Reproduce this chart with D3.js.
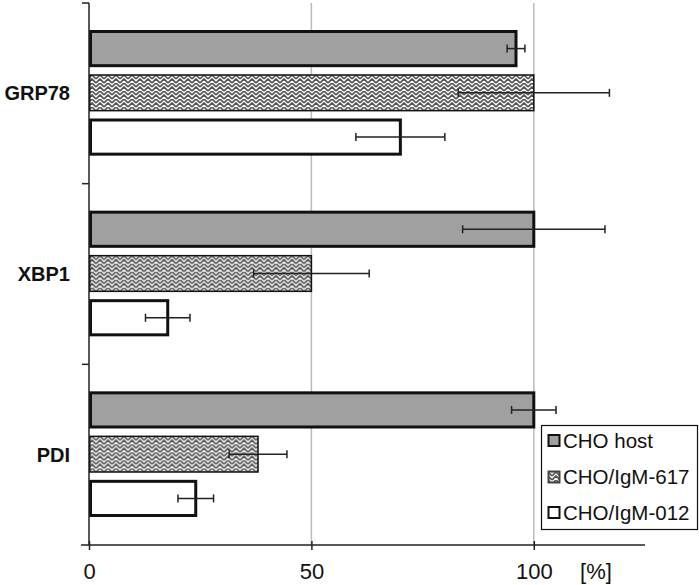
<!DOCTYPE html>
<html>
<head>
<meta charset="utf-8">
<script src="https://cdn.jsdelivr.net/npm/d3@7"></script>
<style>
  body { margin: 0; background: #fff; }
  svg { display: block; font-family: "Liberation Sans", Arial, sans-serif; }
</style>
</head>
<body>
<svg id="chart" width="699" height="585"></svg>
<script>
// data
const genes = ["GRP78", "XBP1", "PDI"];
const series = ["CHO host", "CHO/IgM-617", "CHO/IgM-012"];
const hostVals = [96, 100, 100];
const hostErr = [2, 16, 5];
const igm617Vals = [100, 50, 38];
const igm617Err = [17, 13, 6.5];
const igm012Vals = [70, 17.7, 24];
const igm012Err = [10, 5, 4];
const xTicks = [0, 50, 100];

const values = [hostVals, igm617Vals, igm012Vals];
const errors = [hostErr, igm617Err, igm012Err];

const svg = d3.select("#chart");
const plotLeft = 89, plotRight = 645, plotTop = 3, plotBottom = 545;

const x = d3.scaleLinear().domain([0, 125]).range([plotLeft, plotRight]);
const y0 = d3.scaleBand().domain(genes).range([plotTop, plotBottom]);
const y1 = d3.scaleBand().domain(series)
  .range([27, y0.bandwidth() - 28]).paddingInner(0.16);

// herringbone-ish pattern for the 617 series
const defs = svg.append("defs");
const pat = defs.append("pattern")
  .attr("id", "weave").attr("patternUnits", "userSpaceOnUse")
  .attr("width", 8).attr("height", 8);
pat.append("rect").attr("width", 8).attr("height", 8).attr("fill", "#fff");
pat.append("path")
  .attr("d", "M0,4 L4,0 L8,4 M0,8 L4,4 L8,8 M-1,1 L0,0 M8,0 L9,1")
  .attr("fill", "none").attr("stroke", "#555").attr("stroke-width", 1.7);

const fills = ["#a0a0a0", "url(#weave)", "#fff"];
const strokes = [3, 1.5, 3];

// gridlines
svg.append("g").selectAll("line")
  .data(xTicks.filter(d => d > 0))
  .join("line")
  .attr("x1", d => x(d)).attr("x2", d => x(d))
  .attr("y1", plotTop).attr("y2", plotBottom)
  .attr("stroke", "#bbb").attr("stroke-width", 1.5);

// bars
const groups = svg.append("g").selectAll("g")
  .data(genes)
  .join("g")
  .attr("transform", d => `translate(0,${y0(d)})`);

groups.each(function (g, gi) {
  const sel = d3.select(this);
  series.forEach((s, si) => {
    const v = values[si][gi];
    const e = errors[si][gi];
    const sw = strokes[si];
    sel.append("rect")
      .attr("x", x(0) + sw / 2)
      .attr("y", y1(s) + sw / 2)
      .attr("width", x(v) - x(0) - sw / 2)
      .attr("height", y1.bandwidth() - sw)
      .attr("fill", fills[si])
      .attr("stroke", "#111")
      .attr("stroke-width", sw);
    const cy = y1(s) + y1.bandwidth() / 2;
    const eb = sel.append("g").attr("stroke", "#222").attr("stroke-width", 1.5);
    eb.append("line").attr("x1", x(v - e)).attr("x2", x(v + e)).attr("y1", cy).attr("y2", cy);
    [v - e, v + e].forEach(t => {
      eb.append("line").attr("x1", x(t)).attr("x2", x(t)).attr("y1", cy - 4).attr("y2", cy + 4);
    });
  });
});

// x axis
const xAxis = svg.append("g")
  .attr("transform", `translate(0,${plotBottom})`)
  .call(d3.axisBottom(x).tickValues(xTicks).tickSize(5).tickPadding(13).tickSizeOuter(0));
xAxis.select(".domain").attr("stroke", "#222").attr("stroke-width", 1.5)
  .attr("d", `M${plotLeft - 8},0H${plotRight}`);
xAxis.selectAll(".tick line").attr("stroke", "#222").attr("stroke-width", 1.5)
  .attr("y1", -4).attr("y2", 5);
xAxis.selectAll(".tick text").attr("font-size", 22).attr("fill", "#111")
  .attr("font-family", "Liberation Sans, Arial, sans-serif");
svg.append("text").attr("x", 596).attr("y", 579).attr("text-anchor", "middle")
  .attr("font-size", 22).attr("fill", "#111").text("[%]");

// y axis: ticks at band boundaries
const yAx = svg.append("g");
yAx.append("line").attr("x1", plotLeft).attr("x2", plotLeft).attr("y1", plotTop).attr("y2", plotBottom)
  .attr("stroke", "#222").attr("stroke-width", 1.5);
yAx.selectAll(".yt").data(genes.map(g => y0(g)))
  .join("line").attr("class", "yt")
  .attr("x1", plotLeft - 7).attr("x2", plotLeft).attr("y1", d => d).attr("y2", d => d)
  .attr("stroke", "#222").attr("stroke-width", 1.5);
yAx.selectAll(".yl").data(genes)
  .join("text").attr("class", "yl")
  .attr("x", 70).attr("y", d => y0(d) + y0.bandwidth() / 2)
  .attr("dy", "0.35em").attr("text-anchor", "end")
  .attr("font-size", 20).attr("font-weight", "bold").attr("fill", "#111")
  .text(d => d);

// legend
const lg = svg.append("g");
lg.append("rect").attr("x", 541.5).attr("y", 425.5).attr("width", 156).attr("height", 104)
  .attr("fill", "#fff").attr("stroke", "#111").attr("stroke-width", 1.2);
const legY = [440.5, 477, 512.5];
series.forEach((s, i) => {
  lg.append("rect").attr("x", 548.5).attr("y", legY[i] - 5.5).attr("width", 11).attr("height", 11)
    .attr("fill", fills[i]).attr("stroke", i === 1 ? "#444" : "#111").attr("stroke-width", 2);
  lg.append("text").attr("x", 563).attr("y", legY[i]).attr("dy", "0.36em")
    .attr("font-size", 20.5).attr("fill", "#111").text(s);
});
</script>
</body>
</html>
